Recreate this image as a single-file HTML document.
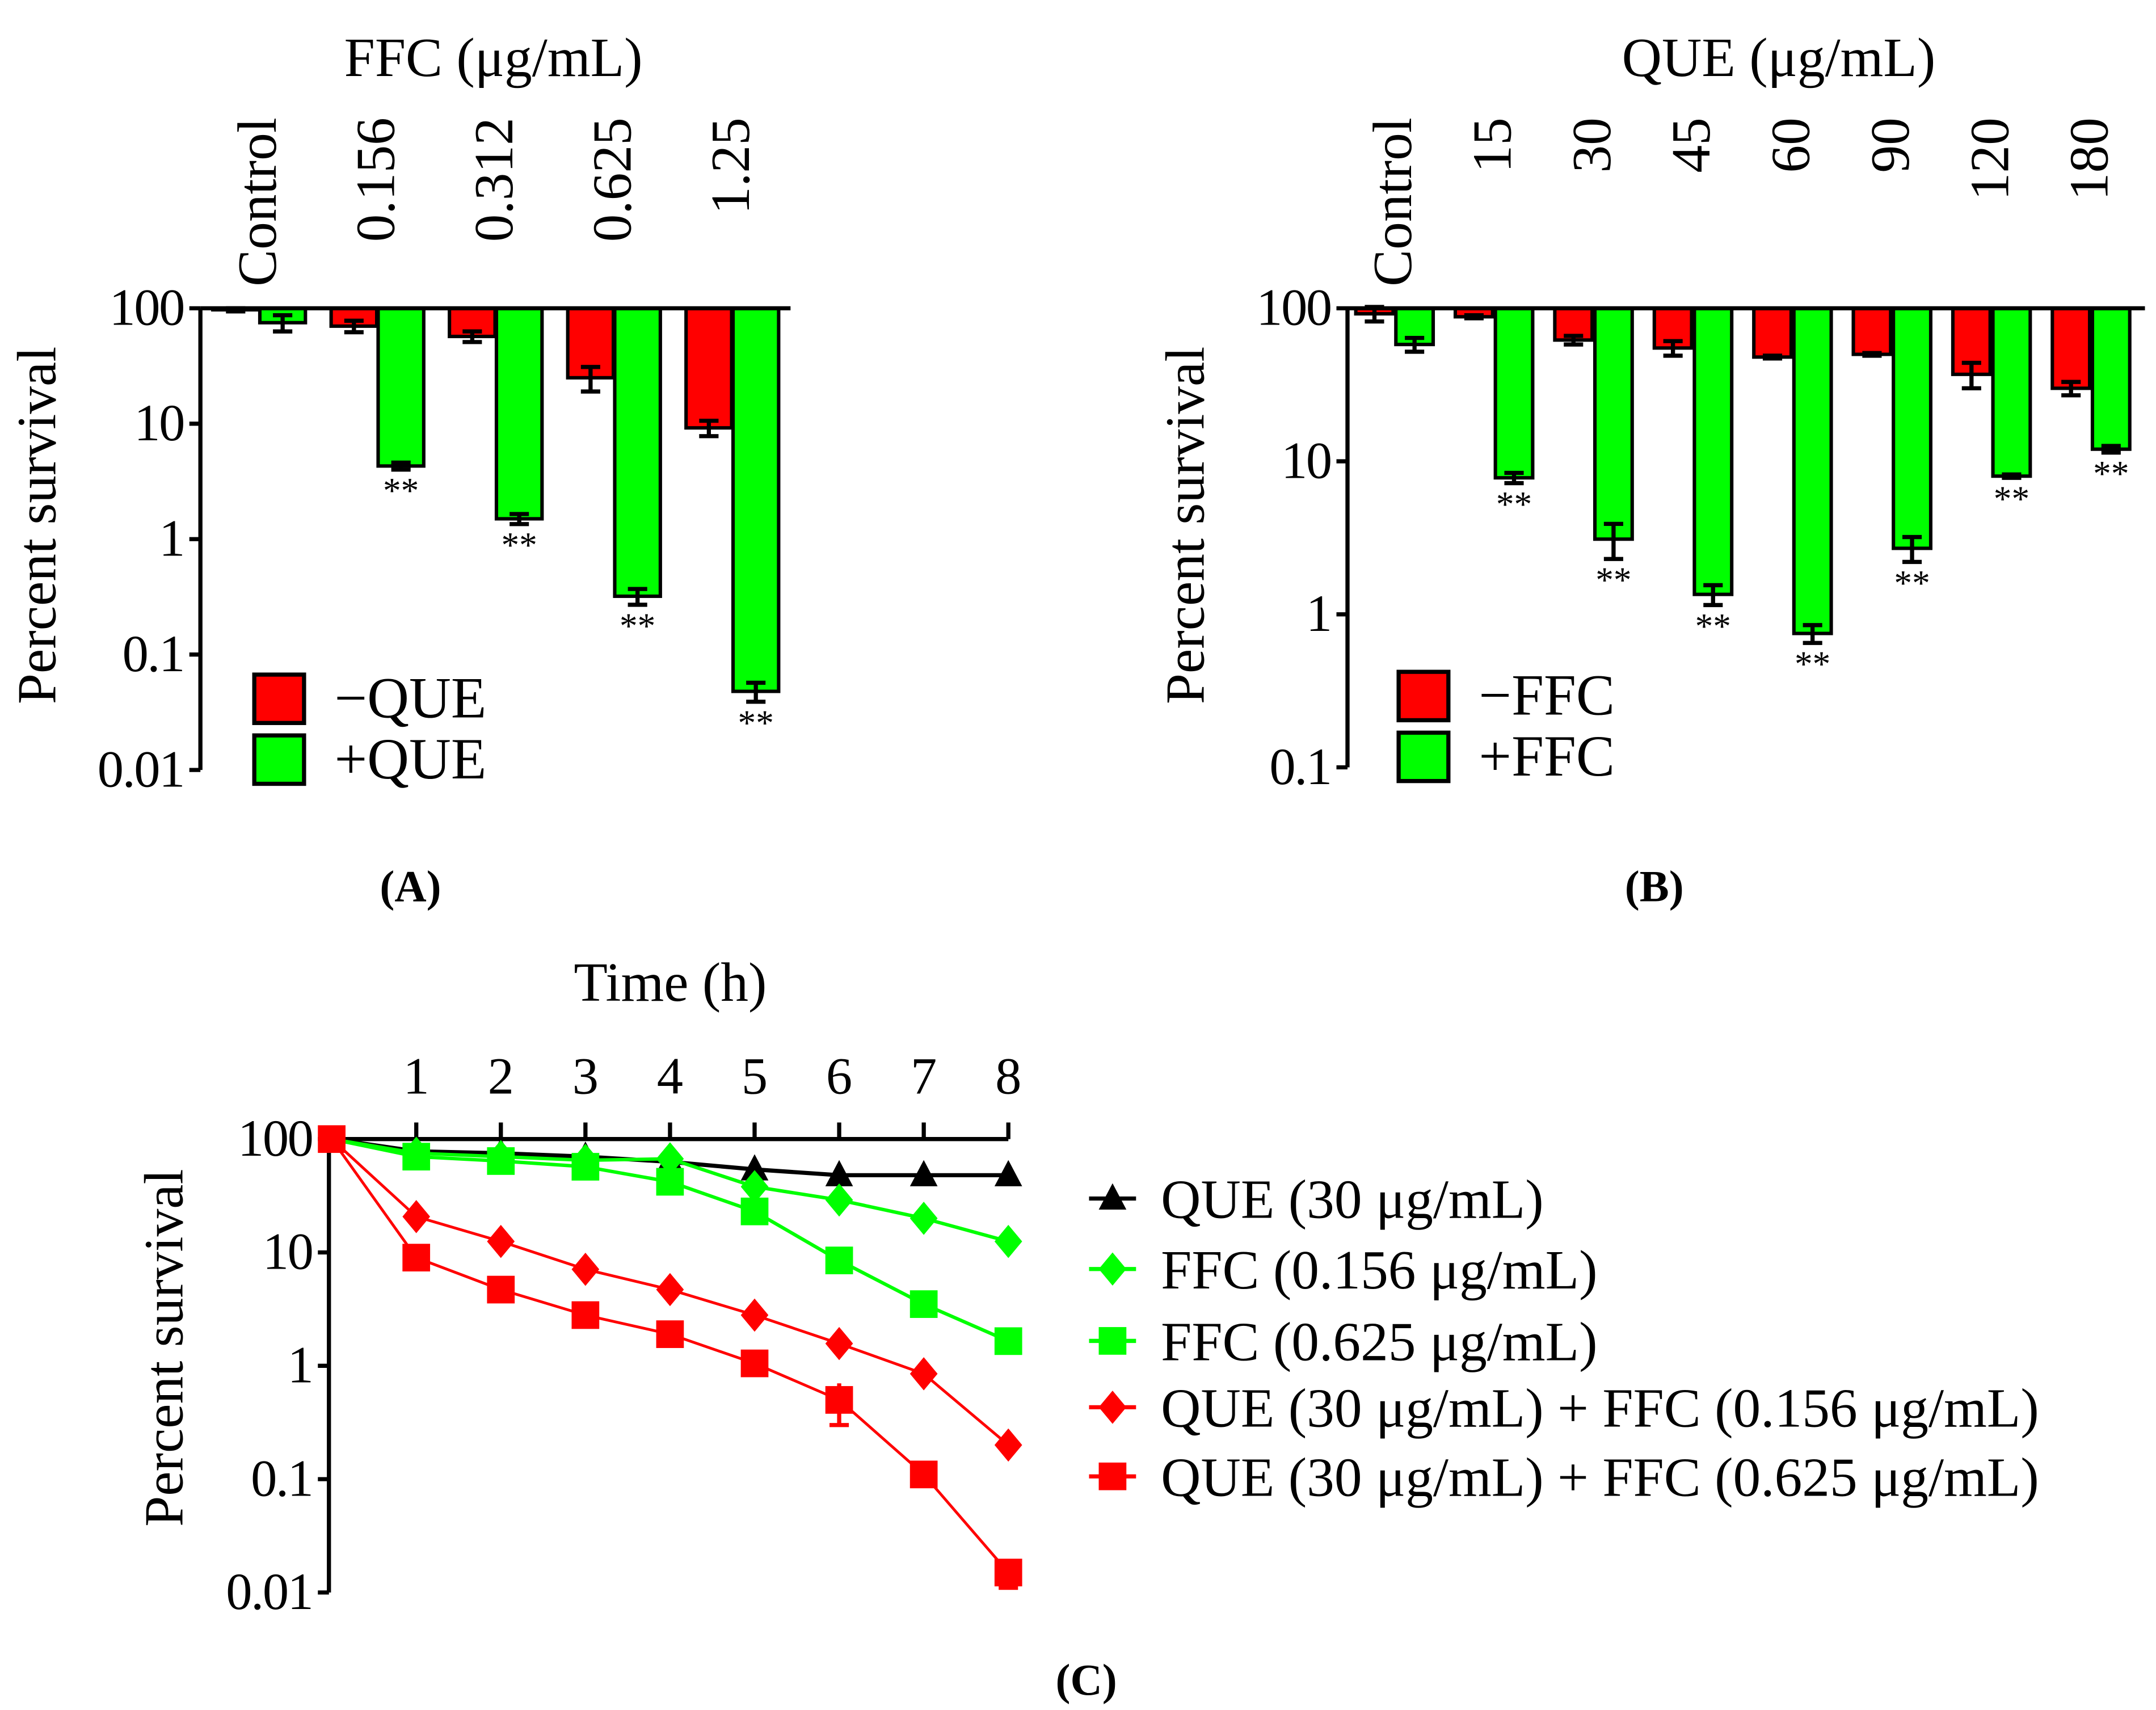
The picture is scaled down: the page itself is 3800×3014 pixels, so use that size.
<!DOCTYPE html>
<html><head><meta charset="utf-8"><style>
html,body{margin:0;padding:0;background:#fff}
svg{display:block}
text{font-family:"Liberation Serif","Times New Roman","DejaVu Serif",serif;fill:#000}
</style></head><body>
<svg id="fig" width="3800" height="3014" viewBox="0 0 1560 1237" preserveAspectRatio="none" xmlns="http://www.w3.org/2000/svg" font-family="Liberation Serif, Times New Roman, DejaVu Serif, serif">
<g id="pa"></g>
<g id="pb"></g>
<g id="pc"></g>
</svg>
<script>
// Panel A data
const aCats = ["Control","0.156","0.312","0.625","1.25"];
const aRed = [97, 70, 57, 25, 9.2];
const aRedErr = [3, 8, 6, 6, 1.4];
const aGreen = [75, 4.3, 1.5, 0.32, 0.048];
const aGreenErr = [12, 0.3, 0.15, 0.05, 0.009];
const aStars = [false, true, true, true, true];
const aTicks = [100, 10, 1, 0.1, 0.01];
const aTickLabels = ["100","10","1","0.1","0.01"];
// Panel B data
const bCats = ["Control","15","30","45","60","90","120","180"];
const bRed = [92, 88, 62, 55, 48, 50, 37, 30];
const bRedErr = [10, 2, 4, 6, 1, 1, 7, 3];
const bGreen = [58, 7.8, 3.1, 1.35, 0.75, 2.7, 8, 12];
const bGreenErr = [6, 0.6, 0.8, 0.2, 0.1, 0.5, 0.2, 0.6];
const bStars = [false, true, true, true, true, true, true, true];
const bTicks = [100, 10, 1, 0.1];
const bTickLabels = ["100","10","1","0.1"];
// Panel C data
const cHours = [0,1,2,3,4,5,6,7,8];
const cTickLabels = ["1","2","3","4","5","6","7","8"];
const cQue = [100, 78, 75, 70, 63, 54, 48, 48, 48];
const cFfcLow = [100, 75, 70, 65, 67, 38, 29, 20, 12.5];
const cFfcHigh = [100, 70, 64, 57, 42, 23, 8.5, 3.5, 1.65];
const cComboLow = [100, 20.7, 12.5, 7.1, 4.7, 2.8, 1.57, 0.85, 0.2];
const cComboHigh = [100, 9, 4.7, 2.8, 1.9, 1.05, 0.5, 0.11, 0.015];
const cComboHighErr = [0, 0, 0, 0, 0, 0.1, 0.2, 0.01, 0.004];
const cTicks = [100, 10, 1, 0.1, 0.01];
const cLegend = ["QUE (30 μg/mL)","FFC (0.156 μg/mL)","FFC (0.625 μg/mL)","QUE (30 μg/mL) + FFC (0.156 μg/mL)","QUE (30 μg/mL) + FFC (0.625 μg/mL)"];

const NS="http://www.w3.org/2000/svg";
function mk(parent,tag,attrs,txt){const e=document.createElementNS(NS,tag);for(const k in attrs)e.setAttribute(k,attrs[k]);if(txt!==undefined)e.textContent=txt;parent.appendChild(e);return e;}
const RED="#ff0000",GREEN="#00ff00";

function barPanel(g,o){
  const y=v=>o.top+(2-Math.log10(v))*o.dec;
  const bot=y(o.ticks[o.ticks.length-1]);
  let ax=mk(g,'line',{x1:o.ax,y1:o.top,x2:o.ax,y2:bot,stroke:'#000','stroke-width':3});
  
  o.ticks.forEach((t,i)=>{
    mk(g,'line',{x1:o.ax-8,y1:y(t),x2:o.ax,y2:y(t),stroke:'#000','stroke-width':3});
    let tl=mk(g,'text',{x:o.ax-12,y:y(t)+12,'text-anchor':'end','font-size':38,'letter-spacing':-1},o.tickLabels[i]);
    
  });
  o.cats.forEach((c,i)=>{
    const rx=o.rx0+o.sp*i, gx=o.gx0+o.sp*i;
    const r=mk(g,'rect',{x:rx,y:o.top,width:o.bw,height:Math.max(0,y(o.red[i])-o.top),fill:RED,stroke:'#000','stroke-width':2.5});
    
    const gr=mk(g,'rect',{x:gx,y:o.top,width:o.bw,height:y(o.green[i])-o.top,fill:GREEN,stroke:'#000','stroke-width':2.5});
    
    [[rx,o.red[i],o.redErr[i]],[gx,o.green[i],o.greenErr[i]]].forEach(([x,v,e])=>{
      const cx=x+o.bw/2, y1=y(v+e), y2=y(Math.max(v-e,v*0.05));
      mk(g,'line',{x1:cx,y1:y1,x2:cx,y2:y2,stroke:'#000','stroke-width':3});
      mk(g,'line',{x1:cx-7,y1:y1,x2:cx+7,y2:y1,stroke:'#000','stroke-width':3});
      mk(g,'line',{x1:cx-7,y1:y2,x2:cx+7,y2:y2,stroke:'#000','stroke-width':3});
    });
    if(o.stars[i]){const s=mk(g,'text',{x:gx+o.bw/2,y:y(o.green[i]-o.greenErr[i])+24,'text-anchor':'middle','font-size':26},'**');
      }
    const lx=(o.rx0+o.sp*i+o.gx0+o.sp*i+o.bw)/2+12;
    const cl=mk(g,'text',{x:lx,y:85,'text-anchor':'end','font-size':40,transform:`rotate(-90 ${lx} 85)`},c);
    
  });
  mk(g,'line',{x1:o.ax,y1:o.top,x2:o.axEnd,y2:o.top,stroke:'#000','stroke-width':3});
}

const pa=document.getElementById('pa');
barPanel(pa,{top:223,dec:83.5,ax:145,axEnd:572,ticks:aTicks,tickLabels:aTickLabels,cats:aCats,red:aRed,redErr:aRedErr,green:aGreen,greenErr:aGreenErr,stars:aStars,rx0:154,gx0:188,sp:85.6,bw:33});
const pb=document.getElementById('pb');
barPanel(pb,{top:223,dec:110.7,ax:975,axEnd:1552,ticks:bTicks,tickLabels:bTickLabels,cats:bCats,red:bRed,redErr:bRedErr,green:bGreen,greenErr:bGreenErr,stars:bStars,rx0:981,gx0:1010,sp:72,bw:27});

// Panel C
const pc=document.getElementById('pc');
const cy=v=>824+(2-Math.log10(v))*82;
const cx=h=>240+h*61.2;
mk(pc,'line',{x1:238,y1:824,x2:238,y2:1152,stroke:'#000','stroke-width':3});
cTicks.forEach((t,i)=>{mk(pc,'line',{x1:230,y1:cy(t),x2:238,y2:cy(t),stroke:'#000','stroke-width':3});
  const tl=mk(pc,'text',{x:226,y:cy(t)+12,'text-anchor':'end','font-size':38,'letter-spacing':-1},aTickLabels[i]);
  });
mk(pc,'line',{x1:238,y1:824,x2:cx(8),y2:824,stroke:'#000','stroke-width':3});
cTickLabels.forEach((t,i)=>{const h=i+1;mk(pc,'line',{x1:cx(h),y1:812,x2:cx(h),y2:824,stroke:'#000','stroke-width':3});
  const tl=mk(pc,'text',{x:cx(h),y:791,'text-anchor':'middle','font-size':38},t);
  });
function marker(g,type,x,y,col){
  if(type==='tri')return mk(g,'polygon',{points:`${x},${y-11} ${x-10},${y+8} ${x+10},${y+8}`,fill:col});
  if(type==='dia')return mk(g,'polygon',{points:`${x},${y-12} ${x+10},${y} ${x},${y+12} ${x-10},${y}`,fill:col});
  return mk(g,'rect',{x:x-10,y:y-10,width:20,height:20,fill:col});
}
const series=[[cQue,'#000','tri',3],[cFfcLow,GREEN,'dia',2.5],[cFfcHigh,GREEN,'sq',2.5],[cComboLow,RED,'dia',2],[cComboHigh,RED,'sq',2]];
const snames=['que','ffc-low','ffc-high','combo-low','combo-high'];
series.forEach(([vals,col,type,w],si)=>{
  const g=mk(pc,'g',{});
  
  mk(g,'polyline',{points:cHours.map((h,i)=>cx(h)+','+cy(vals[i])).join(' '),fill:'none',stroke:col,'stroke-width':w});
  cHours.forEach((h,i)=>{if(h===0)return;const m=marker(g,type,cx(h),cy(vals[i]),col);
    });
  if(si===4){cHours.forEach((h,i)=>{const e=cComboHighErr[i];if(!e)return;
    mk(g,'line',{x1:cx(h),y1:cy(vals[i]+e),x2:cx(h),y2:cy(vals[i]-e),stroke:col,'stroke-width':3});
    mk(g,'line',{x1:cx(h)-7,y1:cy(vals[i]-e),x2:cx(h)+7,y2:cy(vals[i]-e),stroke:col,'stroke-width':3});});}
});
const s0=mk(pc,'rect',{x:230,y:814,width:20,height:20,fill:RED});

const legY=[867,918,970,1018,1068];
series.forEach(([v,col,type],i)=>{
  const g=mk(pc,'g',{});
  
  mk(g,'line',{x1:788,y1:legY[i],x2:822,y2:legY[i],stroke:col,'stroke-width':3});
  marker(g,type,805,legY[i],col);
  mk(g,'text',{x:840,y:legY[i]+14,'font-size':40},cLegend[i]);
});
</script>
<script>
const F=document.getElementById('fig');
function T(x,y,s,txt,name,extra){const e=document.createElementNS("http://www.w3.org/2000/svg",'text');e.setAttribute('x',x);e.setAttribute('y',y);e.setAttribute('font-size',s);e.setAttribute('text-anchor','middle');if(extra)for(const k in extra)e.setAttribute(k,extra[k]);e.textContent=txt;


F.appendChild(e);return e;}
T(357,55,40,'FFC (μg/mL)','x-axis-title-a');
T(1287,55,40,'QUE (μg/mL)','x-axis-title-b');
T(485,724,40,'Time (h)','x-axis-title-c');
T(40,380,40,'Percent survival','y-axis-title-a',{transform:'rotate(-90 40 380)'});
T(871,380,40,'Percent survival','y-axis-title-b',{transform:'rotate(-90 871 380)'});
T(132,975,40,'Percent survival','y-axis-title-c',{transform:'rotate(-90 132 975)'});
T(297,652,32,'(A)','panel-label-a',{'font-weight':'bold'});
T(1197,652,32,'(B)','panel-label-b',{'font-weight':'bold'});
T(786,1226,32,'(C)','panel-label-c',{'font-weight':'bold'});
function LB(x,y,col,txt,name){const ns="http://www.w3.org/2000/svg";const g=document.createElementNS(ns,'g');


const r=document.createElementNS(ns,'rect');r.setAttribute('x',x);r.setAttribute('y',y);r.setAttribute('width',36);r.setAttribute('height',35);r.setAttribute('fill',col);r.setAttribute('stroke','#000');r.setAttribute('stroke-width',3);g.appendChild(r);
const t=document.createElementNS(ns,'text');t.setAttribute('x',x+58);t.setAttribute('y',y+31);t.setAttribute('font-size',42);t.textContent=txt;g.appendChild(t);F.appendChild(g);}
LB(184,488,'#ff0000','−QUE','legend-minus-que');
LB(184,532,'#00ff00','+QUE','legend-plus-que');
LB(1012,486,'#ff0000','−FFC','legend-minus-ffc');
LB(1012,530,'#00ff00','+FFC','legend-plus-ffc');
</script>
</body></html>
